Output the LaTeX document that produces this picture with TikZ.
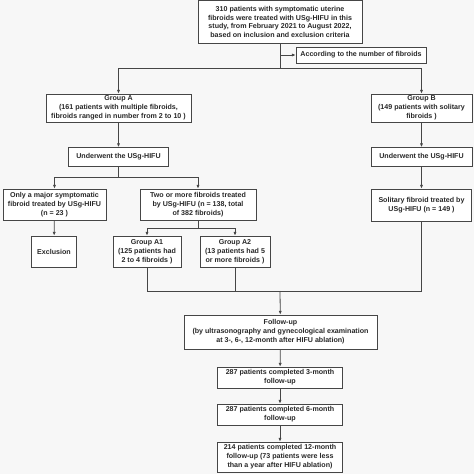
\documentclass[tikz,border=0pt]{standalone}
\usepackage{fontspec}
\setmainfont{Liberation Sans}
\usetikzlibrary{arrows.meta,positioning}
\definecolor{linegray}{RGB}{70,70,70}
\definecolor{textgray}{RGB}{40,40,40}
\definecolor{bggray}{RGB}{247,247,247}

\begin{document}
\begin{tikzpicture}[x=1pt,y=-1pt,
    box/.style={draw=linegray,line width=0.9pt,fill=white,text=textgray,align=center,
      inner sep=1pt,font=\fontsize{7.1}{8.9}\selectfont\bfseries},
    arr/.style={draw=linegray,line width=0.8pt,-{Latex[length=3.6pt,width=3.2pt]}},
    ln/.style={draw=linegray,line width=0.8pt}]
        % fondo
        \fill[bggray] (0,0) rectangle (474,474);
        \useasboundingbox (0,0) rectangle (474,474);
        % cajas
        \node[box,minimum width=164pt,minimum height=43pt] (top) at (280,22) {310 patients with symptomatic uterine\\fibroids were treated with USg-HIFU in this\\study, from February 2021 to August 2022,\\based on inclusion and exclusion criteria};
        \node[box,minimum width=130pt,minimum height=16pt] (crit) at (361,55) {According to the number of fibroids};
        \node[box,minimum width=145pt,minimum height=28pt] (grpA) at (118.5,108) {Group A\\(161 patients with multiple fibroids,\\fibroids ranged in number from 2 to 10 )};
        \node[box,minimum width=101pt,minimum height=28pt] (grpB) at (421.5,108) {Group B\\(149 patients with solitary\\fibroids )};
        \node[box,minimum width=100pt,minimum height=19pt] (undA) at (118.5,157) {Underwent the USg-HIFU};
        \node[box,minimum width=101pt,minimum height=19pt] (undB) at (421.5,157) {Underwent the USg-HIFU};
        \node[box,minimum width=103pt,minimum height=31pt] (major) at (54.5,204.5) {Only a major symptomatic\\fibroid treated by USg-HIFU\\(n = 23 )};
        \node[box,minimum width=116pt,minimum height=31pt] (multi) at (198,204.5) {Two or more fibroids treated\\by USg-HIFU (n = 138, total\\of 382 fibroids)};
        \node[box,minimum width=100pt,minimum height=32pt] (solit) at (421.5,205) {Solitary fibroid treated by\\USg-HIFU (n = 149 )};
        \node[box,minimum width=45pt,minimum height=31pt] (excl) at (54,251.5) {Exclusion};
        \node[box,minimum width=68pt,minimum height=31pt] (grpA1) at (147,251.5) {Group A1\\(125 patients had\\2 to 4 fibroids )};
        \node[box,minimum width=70pt,minimum height=31pt] (grpA2) at (235,251.5) {Group A2\\(13 patients had 5\\or more fibroids )};
        \node[box,minimum width=193pt,minimum height=34pt] (follow) at (280.5,332) {Follow-up\\(by ultrasonography and gynecological examination\\at 3-, 6-, 12-month after HIFU ablation)};
        \node[box,minimum width=125pt,minimum height=21pt] (mon3) at (280,377.5) {287 patients completed 3-month\\follow-up};
        \node[box,minimum width=125pt,minimum height=21pt] (mon6) at (280,414.5) {287 patients completed 6-month\\follow-up};
        \node[box,minimum width=125pt,minimum height=30pt] (mon12) at (280,457) {214 patients completed 12-month\\follow-up (73 patients were less\\than a year after HIFU ablation)};
        % puntos de union
        \coordinate (split1) at (280,68);
        \coordinate (split2) at (118.5,177);
        \coordinate (split3) at (198,228);
        \coordinate (merge) at (280,291);
        % conectores
        \draw[ln] (top) -- (split1);
        \draw[arr] (top.south |- crit.west) -- (crit.west);
        \draw[arr] (split1) -| (grpA);
        \draw[arr] (split1) -| (grpB);
        \draw[arr] (grpA) -- (undA);
        \draw[arr] (grpB) -- (undB);
        \draw[ln] (undA) -- (split2);
        \draw[arr] (split2) -| (major);
        \draw[arr] (split2) -| (multi);
        \draw[arr] (major) -- (excl);
        \draw[ln] (multi) -- (split3);
        \draw[arr] (split3) -| (grpA1);
        \draw[arr] (split3) -| (grpA2);
        \draw[arr] (undB) -- (solit);
        \draw[ln] (grpA1) |- (merge);
        \draw[ln] (solit) |- (merge);
        \draw[ln] (grpA2) -- (grpA2.south |- merge);
        \draw[arr] (merge) -- (follow);
        \draw[arr] (follow) -- (mon3);
        \draw[arr] (mon3) -- (mon6);
        \draw[arr] (mon6) -- (mon12);
      \end{tikzpicture}
\end{document}
